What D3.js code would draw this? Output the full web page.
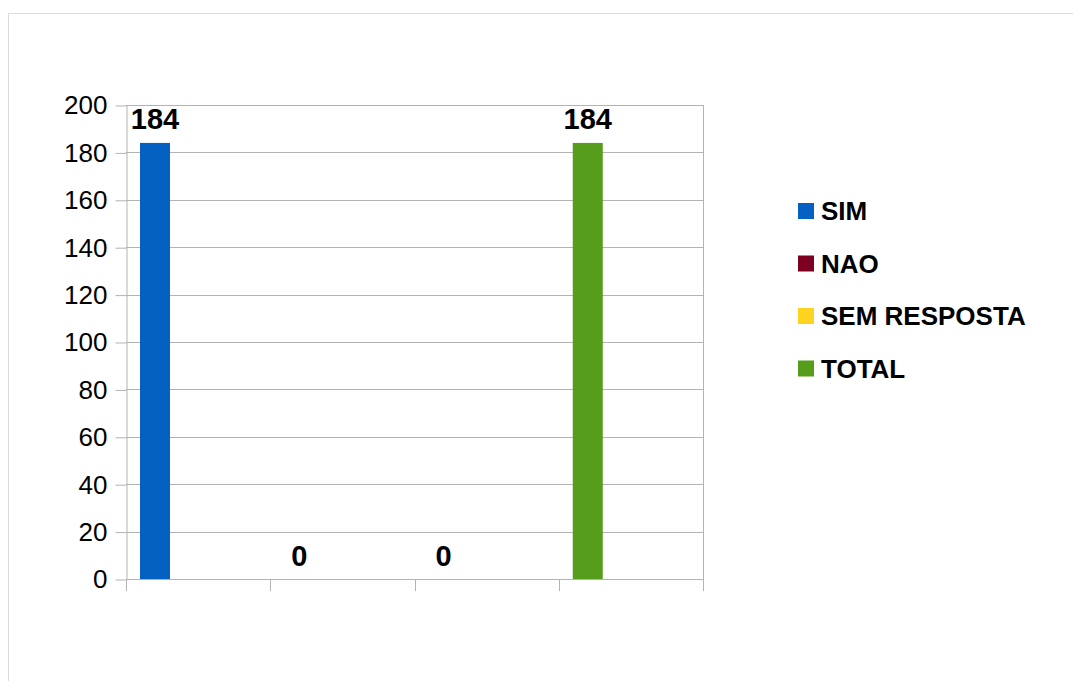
<!DOCTYPE html>
<html>
<head>
<meta charset="utf-8">
<script src="https://cdn.jsdelivr.net/npm/d3@7"></script>
<style>
  body { margin: 0; background: #fff; }
  text { font-family: "Liberation Sans", Arial, sans-serif; fill: #000; }
</style>
</head>
<body>
<script>
// chart data
var seriesNames = ["SIM", "NAO", "SEM RESPOSTA", "TOTAL"]
var seriesValues = [184, 0, 0, 184]
var seriesColors = ["#0561c1", "#7e0021", "#ffd320", "#579d1c"]
var yTicks = [0, 20, 40, 60, 80, 100, 120, 140, 160, 180, 200]

var width = 1073, height = 681

var svg = d3.select("body")
.append("svg")
.attr("width", width)
.attr("height", height);

// outer frame
svg.append("rect")
.attr("x", 8.5)
.attr("y", 13.5)
.attr("width", width)
.attr("height", height)
.attr("fill", "none")
.attr("stroke", "#dcdcdc");

var x = d3.scaleBand()
.domain(seriesNames)
.range([126, 703])
.padding(0);

var y = d3.scaleLinear()
.domain([0, 200])
.range([579, 105]);

// gridlines
svg.selectAll(".grid")
.data(yTicks)
.enter()
.append("line")
.attr("class", "grid")
.attr("x1", 126)
.attr("x2", 703)
.attr("y1", function(d) { return Math.round(y(d)) + 0.5 })
.attr("y2", function(d) { return Math.round(y(d)) + 0.5 })
.attr("stroke", "#b3b3b3");

// right border of plot area
svg.append("line")
.attr("x1", 703.5).attr("x2", 703.5)
.attr("y1", y(200)).attr("y2", y(0))
.attr("stroke", "#b3b3b3");

// y axis
var yAxis = svg.append("g")
.attr("transform", "translate(126.5,0.5)")
.call(d3.axisLeft(y).tickValues(yTicks).tickSize(11).tickPadding(8).tickSizeOuter(0));

yAxis.select(".domain").attr("stroke", "#b3b3b3");
yAxis.selectAll(".tick line").attr("stroke", "#b3b3b3");
yAxis.selectAll(".tick text")
.attr("font-size", "26px")
.attr("font-family", "Liberation Sans, Arial, sans-serif")
.attr("fill", "#000");

// category boundary ticks below the x axis
var bounds = seriesNames.map(function(d) { return x(d) }).concat([x.range()[1]])

svg.selectAll(".xtick")
.data(bounds)
.enter()
.append("line")
.attr("class", "xtick")
.attr("x1", function(d) { return Math.round(d) + 0.5 })
.attr("x2", function(d) { return Math.round(d) + 0.5 })
.attr("y1", y(0))
.attr("y2", y(0) + 12)
.attr("stroke", "#b3b3b3");

svg.append("line")
.attr("x1", 126.5).attr("x2", 703.5)
.attr("y1", Math.round(y(0)) + 0.5).attr("y2", Math.round(y(0)) + 0.5)
.attr("stroke", "#b3b3b3");

// bars
var barOffset = 14 / 144.25, barWidth = 30 / 144.25

svg.selectAll(".bar")
.data(seriesValues)
.enter()
.append("rect")
.attr("class", "bar")
.attr("x", function(d, i) { return x(seriesNames[i]) + x.bandwidth() * barOffset })
.attr("width", x.bandwidth() * barWidth)
.attr("y", function(d) { return y(d) })
.attr("height", function(d) { return y(0) - y(d) })
.attr("fill", function(d, i) { return seriesColors[i] });

// data labels
svg.selectAll(".label")
.data(seriesValues)
.enter()
.append("text")
.attr("class", "label")
.attr("x", function(d, i) { return x(seriesNames[i]) + x.bandwidth() * (barOffset + barWidth / 2) })
.attr("y", function(d) { return y(d) - 13.5 })
.attr("text-anchor", "middle")
.attr("font-size", "29px")
.attr("font-weight", "bold")
.text(function(d) { return d });

// legend
var legend = svg.selectAll(".legend")
.data(seriesNames)
.enter()
.append("g")
.attr("class", "legend")
.attr("transform", function(d, i) { return "translate(798," + (211 + i * 52.5) + ")" });

legend.append("rect")
.attr("x", 0)
.attr("y", -8)
.attr("width", 16)
.attr("height", 16)
.attr("fill", function(d, i) { return seriesColors[i] });

legend.append("text")
.attr("x", 23)
.attr("dy", "0.35em")
.attr("font-size", "26px")
.attr("font-weight", "bold")
.text(function(d) { return d });
</script>
</body>
</html>
